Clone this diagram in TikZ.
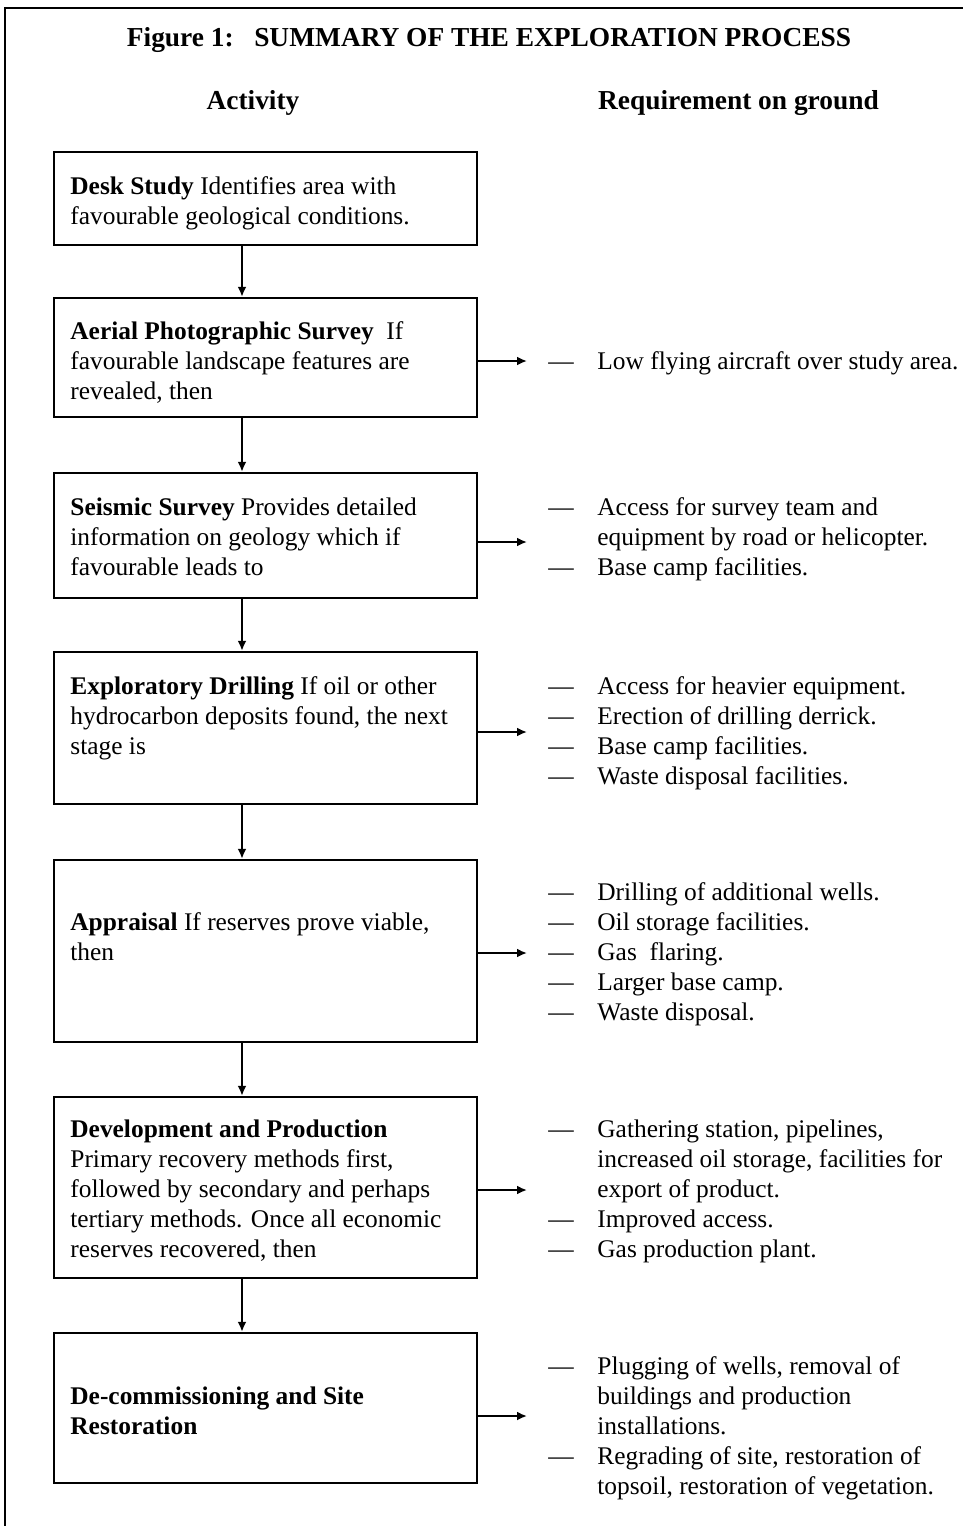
\documentclass[tikz,border=0pt]{standalone}
\usepackage{fontspec}
\setmainfont{Liberation Serif}
\usetikzlibrary{arrows.meta}

\tikzset{
  stagebox/.style={draw, line width=1.2pt, minimum width=211.5pt, inner sep=0pt},
  bodytext/.style={anchor=north west, inner sep=0pt, font=\fontsize{12.7}{15}\selectfont},
  headtext/.style={inner sep=0pt, font=\fontsize{13.7}{16}\selectfont\bfseries},
  flow/.style={line width=1.1pt, -{Latex[length=5pt,width=4.5pt]}}
}

\begin{document}
\begin{tikzpicture}[x=0.5pt,y=-0.5pt]
    \useasboundingbox (0,0) rectangle (963,1526);

    % frame
    \draw[line width=1.1pt] (5,1526) -- (5,8) -- (963,8);

    % headings
    \node[headtext] (title) at (489,40) {Figure 1:\hspace{0.75em}SUMMARY OF THE EXPLORATION PROCESS};
    \node[headtext] (activity) at (253,103) {Activity};
    \node[headtext] (requirement) at (738.5,103) {Requirement on ground};

    % stages
    \node[stagebox, minimum height=46.5pt] (desk) at (265.5,198.5) {};
    \node[stagebox, minimum height=59.5pt] (aerial) at (265.5,357.5) {};
    \node[stagebox, minimum height=62.5pt] (seismic) at (265.5,535.5) {};
    \node[stagebox, minimum height=76pt] (drilling) at (265.5,728) {};
    \node[stagebox, minimum height=91pt] (appraisal) at (265.5,951) {};
    \node[stagebox, minimum height=90.5pt] (production) at (265.5,1187.5) {};
    \node[stagebox, minimum height=75pt] (restoration) at (265.5,1408) {};

    \node[bodytext] (desktext) at (70,173) {\begin{tabular}{@{}l@{}}
        \textbf{Desk Study} Identifies area with\\
        favourable geological conditions.\end{tabular}};
    \node[bodytext] (aerialtext) at (70,318) {\begin{tabular}{@{}l@{}}
        \textbf{Aerial Photographic Survey}\ \ If\\
        favourable landscape features are\\
        revealed, then\end{tabular}};
    \node[bodytext] (seismictext) at (70,494) {\begin{tabular}{@{}l@{}}
        \textbf{Seismic Survey} Provides detailed\\
        information on geology which if\\
        favourable leads to\end{tabular}};
    \node[bodytext] (drillingtext) at (70,673) {\begin{tabular}{@{}l@{}}
        \textbf{Exploratory Drilling} If oil or other\\
        hydrocarbon deposits found, the next\\
        stage is\end{tabular}};
    \node[bodytext] (appraisaltext) at (70,909) {\begin{tabular}{@{}l@{}}
        \textbf{Appraisal} If reserves prove viable,\\
        then\end{tabular}};
    \node[bodytext] (productiontext) at (70,1116) {\begin{tabular}{@{}l@{}}
        \textbf{Development and Production}\\
        Primary recovery methods first,\\
        followed by secondary and perhaps\\
        tertiary methods. Once all economic\\
        reserves recovered, then\end{tabular}};
    \node[bodytext] (restorationtext) at (70,1383) {\begin{tabular}{@{}l@{}}
        \textbf{De-commissioning and Site}\\
        \textbf{Restoration}\end{tabular}};

    % requirements
    \node[bodytext] (aerialreq) at (548,348) {\begin{tabular}{@{}l@{\hspace{11.8pt}}l@{}}
        --- & Low flying aircraft over study area.\end{tabular}};
    \node[bodytext] (seismicreq) at (548,494) {\begin{tabular}{@{}l@{\hspace{11.8pt}}l@{}}
        --- & Access for survey team and\\
            & equipment by road or helicopter.\\
        --- & Base camp facilities.\end{tabular}};
    \node[bodytext] (drillingreq) at (548,673) {\begin{tabular}{@{}l@{\hspace{11.8pt}}l@{}}
        --- & Access for heavier equipment.\\
        --- & Erection of drilling derrick.\\
        --- & Base camp facilities.\\
        --- & Waste disposal facilities.\end{tabular}};
    \node[bodytext] (appraisalreq) at (548,879) {\begin{tabular}{@{}l@{\hspace{11.8pt}}l@{}}
        --- & Drilling of additional wells.\\
        --- & Oil storage facilities.\\
        --- & Gas\ \ flaring.\\
        --- & Larger base camp.\\
        --- & Waste disposal.\end{tabular}};
    \node[bodytext] (productionreq) at (548,1116) {\begin{tabular}{@{}l@{\hspace{11.8pt}}l@{}}
        --- & Gathering station, pipelines,\\
            & increased oil storage, facilities for\\
            & export of product.\\
        --- & Improved access.\\
        --- & Gas production plant.\end{tabular}};
    \node[bodytext] (restorationreq) at (548,1353) {\begin{tabular}{@{}l@{\hspace{11.8pt}}l@{}}
        --- & Plugging of wells, removal of\\
            & buildings and production\\
            & installations.\\
        --- & Regrading of site, restoration of\\
            & topsoil, restoration of vegetation.\end{tabular}};

    % flow down the stages
    \coordinate (spine) at (242,0);
    \draw[flow] (desk.south -| spine) -- (aerial.north -| spine);
    \draw[flow] (aerial.south -| spine) -- (seismic.north -| spine);
    \draw[flow] (seismic.south -| spine) -- (drilling.north -| spine);
    \draw[flow] (drilling.south -| spine) -- (appraisal.north -| spine);
    \draw[flow] (appraisal.south -| spine) -- (production.north -| spine);
    \draw[flow] (production.south -| spine) -- (restoration.north -| spine);

    % arrows to the requirements
    \coordinate (aerialtip) at (527,361);
    \coordinate (seismictip) at (527,542);
    \coordinate (drillingtip) at (527,732);
    \coordinate (appraisaltip) at (527,953);
    \coordinate (productiontip) at (527,1190);
    \coordinate (restorationtip) at (527,1416);
    \draw[flow] (aerial.east |- aerialtip) -- (aerialtip);
    \draw[flow] (seismic.east |- seismictip) -- (seismictip);
    \draw[flow] (drilling.east |- drillingtip) -- (drillingtip);
    \draw[flow] (appraisal.east |- appraisaltip) -- (appraisaltip);
    \draw[flow] (production.east |- productiontip) -- (productiontip);
    \draw[flow] (restoration.east |- restorationtip) -- (restorationtip);
\end{tikzpicture}
\end{document}
